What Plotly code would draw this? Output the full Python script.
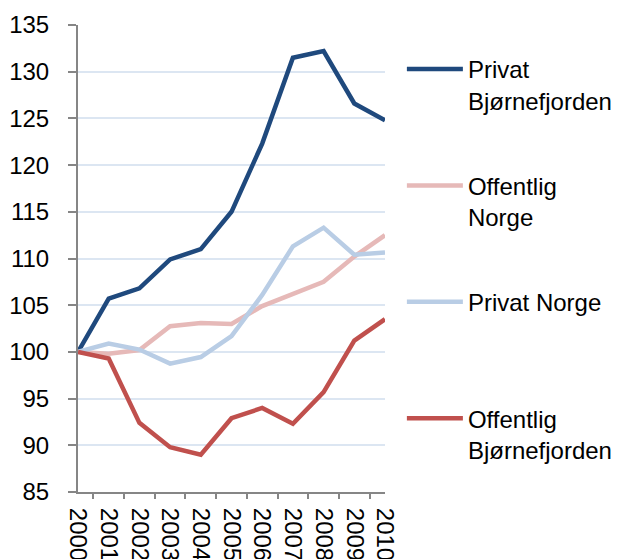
import plotly.graph_objects as go

years = ["2000", "2001", "2002", "2003", "2004", "2005", "2006", "2007", "2008", "2009", "2010"]
privat_bjornefjorden = [100, 105.7, 106.8, 109.9, 111.0, 115.0, 122.3, 131.5, 132.2, 126.6, 124.8]
offentlig_norge = [100, 99.8, 100.2, 102.75, 103.1, 103.0, 104.9, 106.2, 107.5, 110.2, 112.5]
privat_norge = [100, 100.9, 100.25, 98.75, 99.45, 101.7, 106.1, 111.3, 113.3, 110.4, 110.65]
offentlig_bjornefjorden = [100, 99.3, 92.4, 89.8, 89.0, 92.9, 94.0, 92.3, 95.7, 101.2, 103.5]

series = [
    ("Privat<br>Bjørnefjorden", privat_bjornefjorden, "#1F497D"),
    ("Offentlig<br>Norge", offentlig_norge, "#E6B9B8"),
    ("Privat Norge<br> ", privat_norge, "#B9CDE5"),
    ("Offentlig<br>Bjørnefjorden", offentlig_bjornefjorden, "#C0504D"),
]

fig = go.Figure()
for i, (name, vals, color) in enumerate(series):
    fig.add_trace(go.Scatter(
        x=years, y=vals, name=name, mode="lines",
        line=dict(color=color, width=4.5),
        legendgroup=str(i),
    ))

font = dict(family="Liberation Sans, Arial, sans-serif", size=24, color="#000000")

fig.update_layout(
    width=617, height=559,
    margin=dict(l=78, r=232, t=25, b=67, autoexpand=False),
    paper_bgcolor="white", plot_bgcolor="white",
    font=font,
    showlegend=True,
    legend=dict(
        x=1.055, y=0.953, xanchor="left", yanchor="top",
        valign="top", tracegroupgap=51, itemwidth=56,
        font=font, bgcolor="rgba(0,0,0,0)",
    ),
    xaxis=dict(
        type="category", tickmode="linear", dtick=1, tickangle=90,
        ticks="outside", tickson="boundaries",
        ticklen=5, tickcolor="#868686", tickwidth=1.5,
        showline=True, linecolor="#868686", linewidth=2,
        showgrid=False, automargin=False, tickfont=font,
        ticklabelstandoff=9,
    ),
    yaxis=dict(
        range=[85, 135], dtick=5, ticks="outside", ticklen=8,
        tickcolor="#868686", tickwidth=1.5,
        showline=True, linecolor="#868686", linewidth=2,
        showgrid=True, gridcolor="#DCE6F2", gridwidth=1.5,
        zeroline=False, automargin=False, tickfont=font,
        ticklabelstandoff=14,
    ),
)

fig.write_html(
    "out.html",
    config={"displayModeBar": False},
    post_script="document.body.style.margin='0';document.body.style.overflow='hidden';",
)
